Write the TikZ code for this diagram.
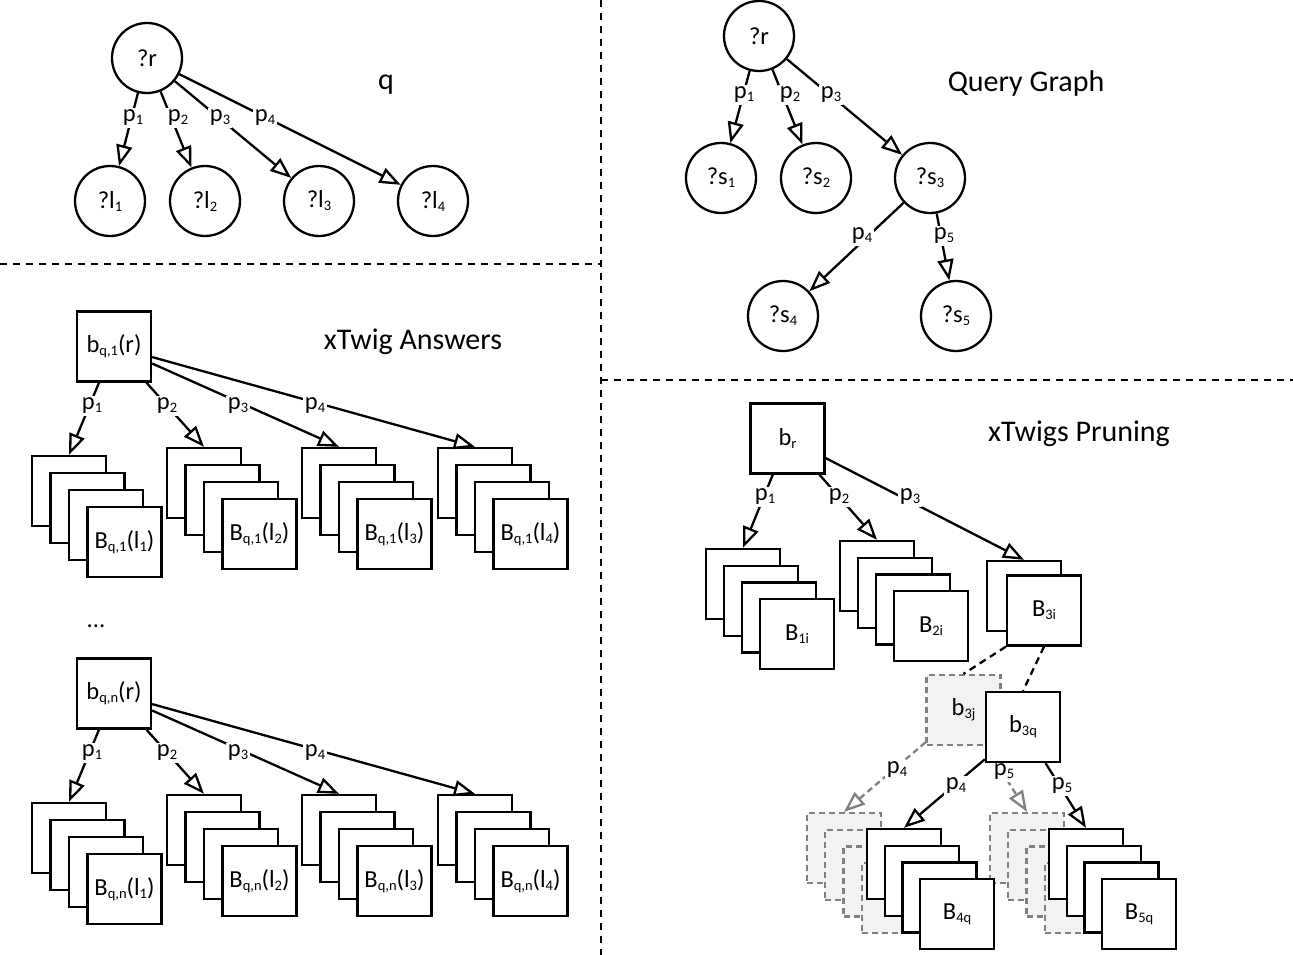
\documentclass[tikz,border=0pt]{standalone}
\usepackage{fontspec}
\setmainfont{Carlito}
\usetikzlibrary{arrows.meta}
\definecolor{grayline}{HTML}{808080}
\definecolor{grayfill}{HTML}{F2F2F2}
\newcommand\sbs[1]{\raisebox{-3pt}{\fontsize{14.5}{14.5}\selectfont #1}}
\newcommand\stk[7]{%
  \node[#7] (#1-1) at (#2,#3) {};
  \node[#7] (#1-2) at ({#2+#4},{#3+#5}) {};
  \node[#7] (#1-3) at ({#2+2*#4},{#3+2*#5}) {};
  \node[#7] (#1-4) at ({#2+3*#4},{#3+3*#5}) {#6};
}
\begin{document}
\begin{tikzpicture}[x=1pt,y=-1pt,
  every node/.style={font=\fontsize{24.5}{28}\selectfont},
  circ/.style={circle, draw, line width=2.3pt, minimum size=70pt, inner sep=0pt, fill=white},
  bx/.style={rectangle, draw, line width=2.3pt, minimum width=74pt, minimum height=70pt, inner sep=0pt, fill=white},
  gbx/.style={bx, draw=grayline, fill=grayfill, dash pattern=on 6pt off 4pt},
  conn/.style={line width=2.3pt, -{Triangle[fill=white, length=21pt, width=16pt]}},
  gconn/.style={conn, draw=grayline, dash pattern=on 6pt off 4pt},
  bdash/.style={line width=2.3pt, dash pattern=on 7pt off 5pt},
  lbl/.style={fill=white, inner sep=2pt},
  title/.style={font=\fontsize{30}{34}\selectfont},
  sep/.style={line width=2.3pt, dash pattern=on 7pt off 6pt}
]
\useasboundingbox (0,0) rectangle (1293,955);
\fill[white] (0,0) rectangle (1293,955);

% separators
\draw[sep] (601,0) -- (601,955);
\draw[sep] (0,264) -- (601,264);
\draw[sep] (601,380) -- (1293,380);

% ---------- top left: q ----------
\node[circ] (r1) at (147,58) {?r};
\node[circ] (l1) at (110,201) {?l\sbs{1}};
\node[circ] (l2) at (205,201) {?l\sbs{2}};
\node[circ] (l3) at (319,201) {?l\sbs{3}};
\node[circ] (l4) at (433,201) {?l\sbs{4}};
\draw[conn] (r1) -- (l1);
\draw[conn] (r1) -- (l2);
\draw[conn] (r1) -- (l3);
\draw[conn] (r1) -- (l4);
\node[lbl] (q1) at (133,118) {p\sbs{1}};
\node[lbl] (q2) at (178,118) {p\sbs{2}};
\node[lbl] (q3) at (220,118) {p\sbs{3}};
\node[lbl] (q4) at (265,118) {p\sbs{4}};
\node[title] (tq) at (386,85) {q};

% ---------- top right: query graph ----------
\node[circ] (r2) at (759,36) {?r};
\node[circ] (s1) at (721,178) {?s\sbs{1}};
\node[circ] (s2) at (816,178) {?s\sbs{2}};
\node[circ] (s3) at (930,178) {?s\sbs{3}};
\node[circ] (s4) at (783,316) {?s\sbs{4}};
\node[circ] (s5) at (956,316) {?s\sbs{5}};
\draw[conn] (r2) -- (s1);
\draw[conn] (r2) -- (s2);
\draw[conn] (r2) -- (s3);
\draw[conn] (s3) -- (s4);
\draw[conn] (s3) -- (s5);
\node[lbl] (g1) at (744,95) {p\sbs{1}};
\node[lbl] (g2) at (790,95) {p\sbs{2}};
\node[lbl] (g3) at (831,95) {p\sbs{3}};
\node[lbl] (g4) at (862,236) {p\sbs{4}};
\node[lbl] (g5) at (944,236) {p\sbs{5}};
\node[title] (tqg) at (1026,84) {Query Graph};

% ---------- middle left: xTwig answers ----------
\node[title] (txa) at (413,342) {xTwig Answers};
\node[bx] (b1r) at (114,346.5) {b\sbs{q,1}(r)};
\stk{a1}{69}{491}{18.5}{17}{B\sbs{q,1}(l\sbs{1})}{bx}
\stk{a2}{204}{483}{18.5}{17}{B\sbs{q,1}(l\sbs{2})}{bx}
\stk{a3}{339}{483}{18.5}{17}{B\sbs{q,1}(l\sbs{3})}{bx}
\stk{a4}{475}{483}{18.5}{17}{B\sbs{q,1}(l\sbs{4})}{bx}
\draw[conn] (b1r) -- (a1-1.north);
\draw[conn] (b1r) -- (a2-1.north);
\draw[conn] (b1r) -- (a3-1.north);
\draw[conn] (b1r) -- (a4-1.north);
\node[lbl] (e1) at (92,406) {p\sbs{1}};
\node[lbl] (e2) at (167,406) {p\sbs{2}};
\node[lbl] (e3) at (238,406) {p\sbs{3}};
\node[lbl] (e4) at (315,406) {p\sbs{4}};

\node (dots) at (96,626) {...};

\node[bx] (b2r) at (114,693.5) {b\sbs{q,n}(r)};
\stk{c1}{69}{838}{18.5}{17}{B\sbs{q,n}(l\sbs{1})}{bx}
\stk{c2}{204}{830}{18.5}{17}{B\sbs{q,n}(l\sbs{2})}{bx}
\stk{c3}{339}{830}{18.5}{17}{B\sbs{q,n}(l\sbs{3})}{bx}
\stk{c4}{475}{830}{18.5}{17}{B\sbs{q,n}(l\sbs{4})}{bx}
\draw[conn] (b2r) -- (c1-1.north);
\draw[conn] (b2r) -- (c2-1.north);
\draw[conn] (b2r) -- (c3-1.north);
\draw[conn] (b2r) -- (c4-1.north);
\node[lbl] (f1) at (92,753) {p\sbs{1}};
\node[lbl] (f2) at (167,753) {p\sbs{2}};
\node[lbl] (f3) at (238,753) {p\sbs{3}};
\node[lbl] (f4) at (315,753) {p\sbs{4}};

% ---------- bottom right: xTwigs pruning ----------
\node[title] (txp) at (1079,434) {xTwigs Pruning};
\node[bx] (br) at (787.5,438.5) {b\sbs{r}};
\stk{d1}{743}{584}{18}{16.7}{B\sbs{1i}}{bx}
\stk{d2}{877}{576}{18}{16.7}{B\sbs{2i}}{bx}
\node[bx] (d3-1) at (1024,596) {};
\node[bx] (d3-2) at (1044,610.5) {B\sbs{3i}};
\draw[conn] (br) -- (d1-1.north);
\draw[conn] (br) -- (d2-1.north);
\draw[conn] (br) -- (d3-1.north);
\node[lbl] (h1) at (765,497) {p\sbs{1}};
\node[lbl] (h2) at (839,497) {p\sbs{2}};
\node[lbl] (h3) at (910,497) {p\sbs{3}};

\node[gbx] (b3j) at (963.5,710) {b\sbs{3j}};
\draw[bdash] (d3-2.south west) -- (b3j.north);
\stk{k4}{844}{848}{18.3}{16.7}{}{gbx}
\stk{k5}{1027}{848}{18.3}{16.7}{}{gbx}
\draw[gconn] (b3j) -- (k4-1.north);
\draw[gconn] (b3j) -- (k5-1.north);
\node[lbl] (m4) at (897,770) {p\sbs{4}};
\node[lbl] (m5) at (1004,772) {p\sbs{5}};

\node[bx] (b3q) at (1023,727) {b\sbs{3q}};
\draw[bdash] (d3-2.south) -- (b3q.north);
\stk{n4}{904}{864}{17.7}{16.7}{B\sbs{4q}}{bx}
\stk{n5}{1086}{864}{17.7}{16.7}{B\sbs{5q}}{bx}
\draw[conn] (b3q) -- (n4-1.north);
\draw[conn] (b3q) -- (n5-1.north);
\node[lbl] (o4) at (956,786) {p\sbs{4}};
\node[lbl] (o5) at (1062,786) {p\sbs{5}};
\end{tikzpicture}
\end{document}
